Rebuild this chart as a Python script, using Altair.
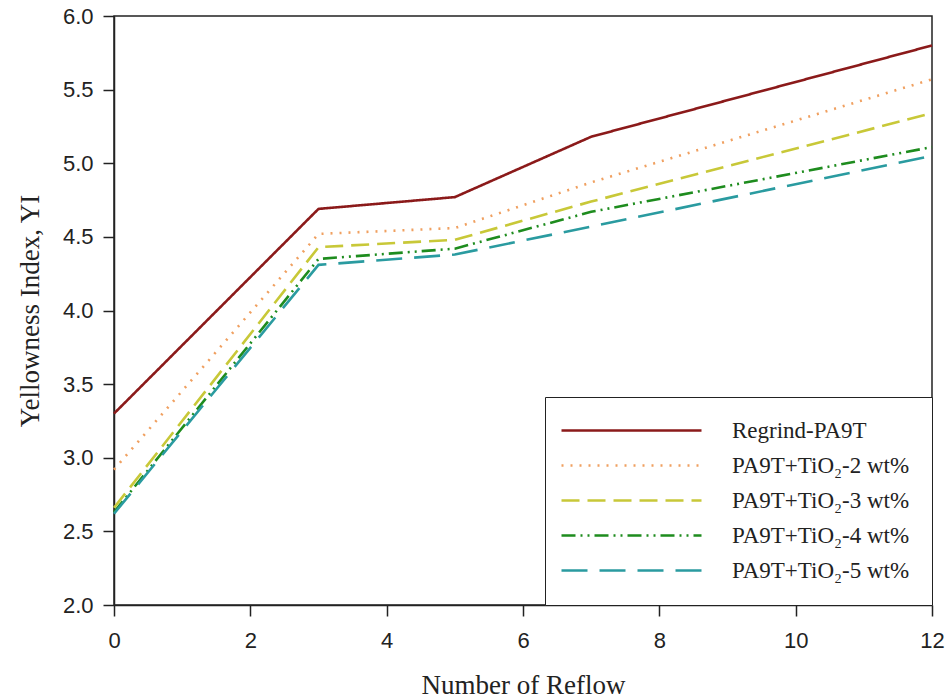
import altair as alt
import pandas as pd

reflow = [0, 3, 5, 7, 12]
series = ["Regrind-PA9T", "PA9T+TiO₂-2 wt%", "PA9T+TiO₂-3 wt%",
          "PA9T+TiO₂-4 wt%", "PA9T+TiO₂-5 wt%"]
regrind = [3.30, 4.69, 4.77, 5.18, 5.80]
tio2_2 = [2.92, 4.52, 4.56, 4.87, 5.57]
tio2_3 = [2.66, 4.43, 4.48, 4.74, 5.34]
tio2_4 = [2.63, 4.35, 4.42, 4.67, 5.11]
tio2_5 = [2.62, 4.31, 4.38, 4.57, 5.05]
colors = ["#8B1A1A", "#F0A060", "#C8C838", "#1E8C1E", "#2A9BA0"]
dashes = [[1, 0], [2, 7], [18, 8], [14, 5, 2, 5, 2, 5], [26, 12]]

values = [regrind, tio2_2, tio2_3, tio2_4, tio2_5]
rows = []
for name, vals in zip(series, values):
    for x, y in zip(reflow, vals):
        rows.append({"reflow": x, "yi": y, "series": name})
df = pd.DataFrame(rows)

leg = alt.Legend(
    title=None, orient="bottom-right", offset=0,
    symbolType="M-1.7,0H12.3", symbolSize=400, symbolStrokeWidth=2.6,
    labelFont="Liberation Serif", labelFontSize=23, labelColor="#222",
    labelLimit=400,
    labelOffset=142, padding=22, rowPadding=11,
    strokeColor="#222", fillColor="white",
)

chart = alt.Chart(df).mark_line(strokeWidth=2.6).encode(
    x=alt.X("reflow:Q", scale=alt.Scale(domain=[0, 12], nice=False),
            axis=alt.Axis(values=[0, 2, 4, 6, 8, 10, 12], title="Number of Reflow",
                          titlePadding=21, labelPadding=14, labelFlush=False)),
    y=alt.Y("yi:Q", scale=alt.Scale(domain=[2.0, 6.0], nice=False),
            axis=alt.Axis(values=[2.0, 2.5, 3.0, 3.5, 4.0, 4.5, 5.0, 5.5, 6.0],
                          format=".1f", title="Yellowness Index, YI",
                          titlePadding=18, labelPadding=10)),
    color=alt.Color("series:N", scale=alt.Scale(domain=series, range=colors), legend=leg),
    strokeDash=alt.StrokeDash("series:N", scale=alt.Scale(domain=series, range=dashes), legend=leg),
    order=alt.Order("reflow:Q"),
).properties(
    width=818, height=589,
    autosize=alt.AutoSizeParams(type="none"),
    padding={"left": 114, "top": 16, "right": 19, "bottom": 94},
    background="white",
).configure_view(
    stroke="#222", strokeWidth=1.5
).configure_axis(
    grid=False, domainColor="#222", domainWidth=1.5, tickColor="#222",
    tickWidth=1.5, tickSize=11,
    labelFont="Liberation Sans", labelFontSize=22, labelColor="#222",
    titleFont="Liberation Serif", titleFontSize=27, titleFontWeight="normal",
    titleColor="#222",
)

chart.save("out.html", embed_options={"renderer": "svg", "actions": False})
